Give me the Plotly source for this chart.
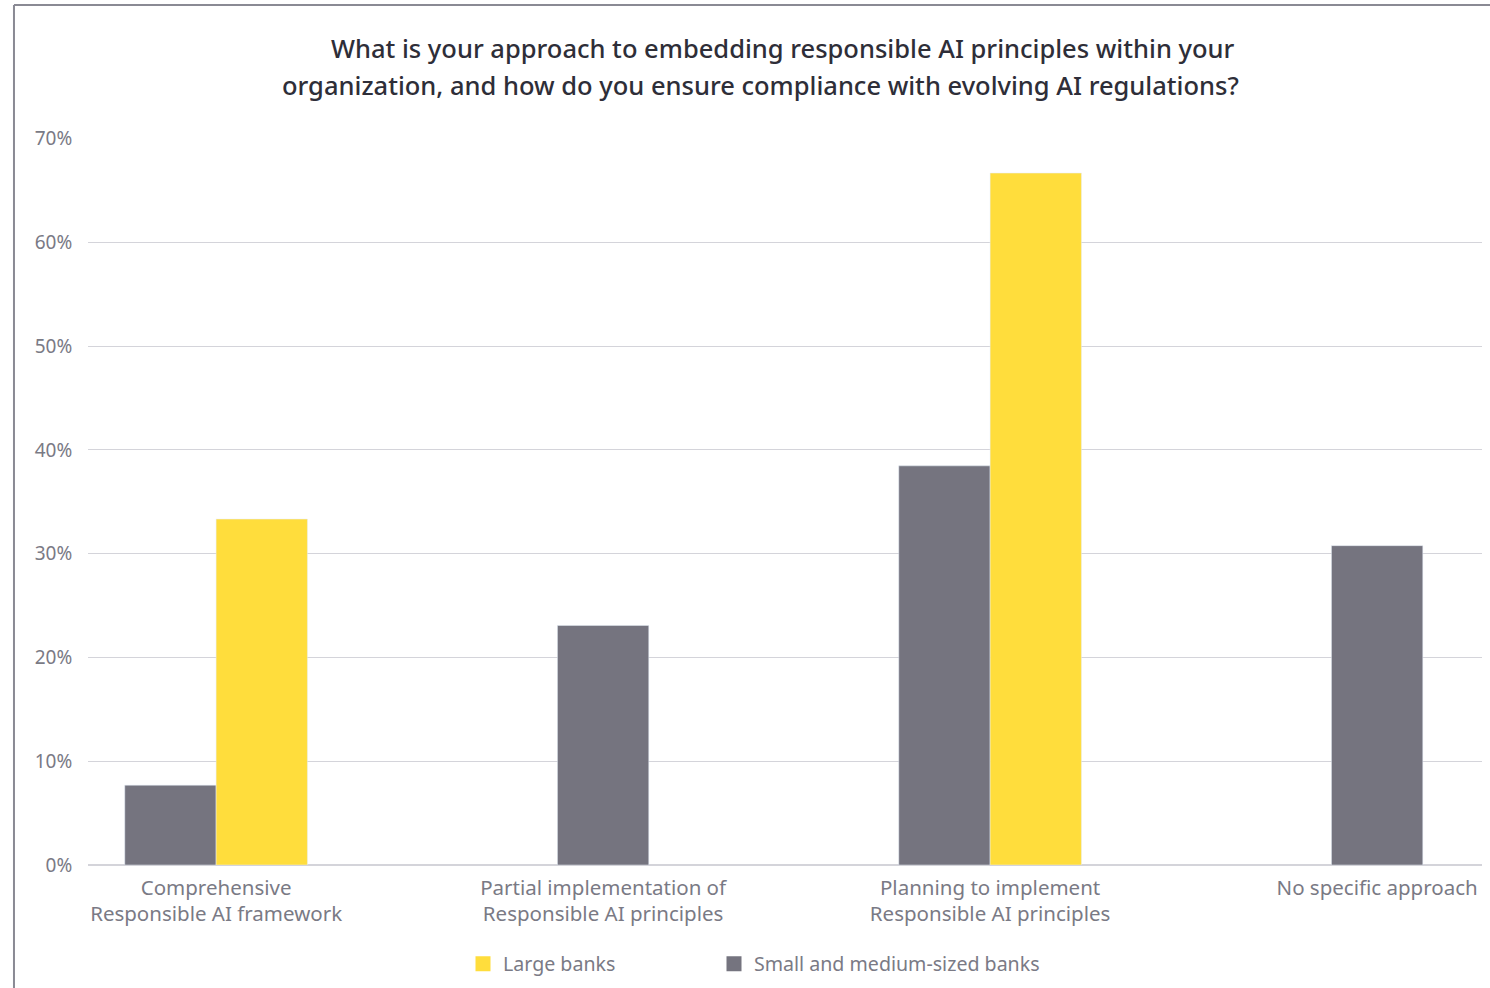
import plotly.graph_objects as go

categories = [
    "Comprehensive<br>Responsible AI framework",
    "Partial implementation of<br>Responsible AI principles",
    "Planning to implement<br>Responsible AI principles",
    "No specific approach",
]
large_banks = [33.33, None, 66.67, None]
small_medium_banks = [7.69, 23.08, 38.46, 30.77]
y_ticks = [0, 10, 20, 30, 40, 50, 60, 70]
y_tick_labels = [f"{v}%" for v in y_ticks]

title_lines = [
    "What is your approach to embedding responsible AI principles within your",
    "organization, and how do you ensure compliance with evolving AI regulations?",
]

YELLOW = "#FFDD3C"
GREY = "#75747F"
FONT = "Noto Sans, Lato, sans-serif"
BAR_W = 0.236

x_pos = list(range(len(categories)))

# bars sit side by side where both series have a value, otherwise centred
small_offset = [-BAR_W if lg is not None else -BAR_W / 2 for lg in large_banks]
large_offset = [0 for _ in large_banks]

fig = go.Figure()
fig.add_trace(go.Bar(
    x=x_pos, y=small_medium_banks, name="Small and medium-sized banks",
    marker_color=GREY, width=BAR_W, offset=small_offset, showlegend=False,
))
fig.add_trace(go.Bar(
    x=x_pos, y=large_banks, name="Large banks",
    marker_color=YELLOW, width=BAR_W, offset=large_offset, showlegend=False,
))

# legend keys with larger square swatches
for name, color, leg in [("Large banks", YELLOW, "legend"),
                         ("Small and medium-sized banks", GREY, "legend2")]:
    fig.add_trace(go.Scatter(
        x=[None], y=[None], mode="markers", name=name, legend=leg,
        marker=dict(symbol="square", size=15, color=color),
    ))

# outer frame lines (left and top)
frame = dict(type="line", xref="paper", yref="paper", line=dict(color="#8a8a94", width=2))
fig.add_shape(**frame, x0=-0.0531, x1=-0.0531, y0=-0.17, y1=1.183)
fig.add_shape(**frame, x0=-0.0531, x1=1.01, y0=1.183, y1=1.183)

# two-line title
for line, xc, yp in zip(title_lines, [783, 760], [48, 85]):
    fig.add_annotation(
        text=line, xref="paper", yref="paper",
        x=(xc - 88) / 1394, y=(865 - yp) / 727, xanchor="center", yanchor="middle",
        showarrow=False, font=dict(family=FONT, size=25.5, color="#2e2e38", weight=500),
    )

legend_common = dict(
    orientation="h", yanchor="middle", y=(865 - 964) / 727,
    font=dict(size=19.6, color="#7a7a85"), bgcolor="rgba(0,0,0,0)",
)

fig.update_layout(
    width=1490, height=988,
    margin=dict(l=88, r=8, t=138, b=123, autoexpand=False),
    paper_bgcolor="white", plot_bgcolor="white",
    barmode="overlay",
    font=dict(family=FONT, color="#7a7a85", size=19),
    xaxis=dict(
        range=[-0.331, 3.271], tickvals=x_pos, ticktext=categories,
        showgrid=False, zeroline=False, showline=False,
        ticks="outside", ticklen=4, tickcolor="rgba(0,0,0,0)",
        tickfont=dict(size=20.5, color="#7a7a85"),
    ),
    yaxis=dict(
        range=[0, 70.05], tickvals=y_ticks, ticktext=y_tick_labels,
        showgrid=True, gridcolor="#d4d4da", gridwidth=1,
        zeroline=True, zerolinecolor="#d4d4da", zerolinewidth=2,
        ticks="outside", ticklen=11, tickcolor="rgba(0,0,0,0)",
        tickfont=dict(size=19, color="#7a7a85"),
    ),
    legend=dict(**legend_common, x=(463 - 88) / 1394, xanchor="left"),
    legend2=dict(**legend_common, x=(714 - 88) / 1394, xanchor="left"),
    showlegend=True,
)

fig.write_html("out.html")
